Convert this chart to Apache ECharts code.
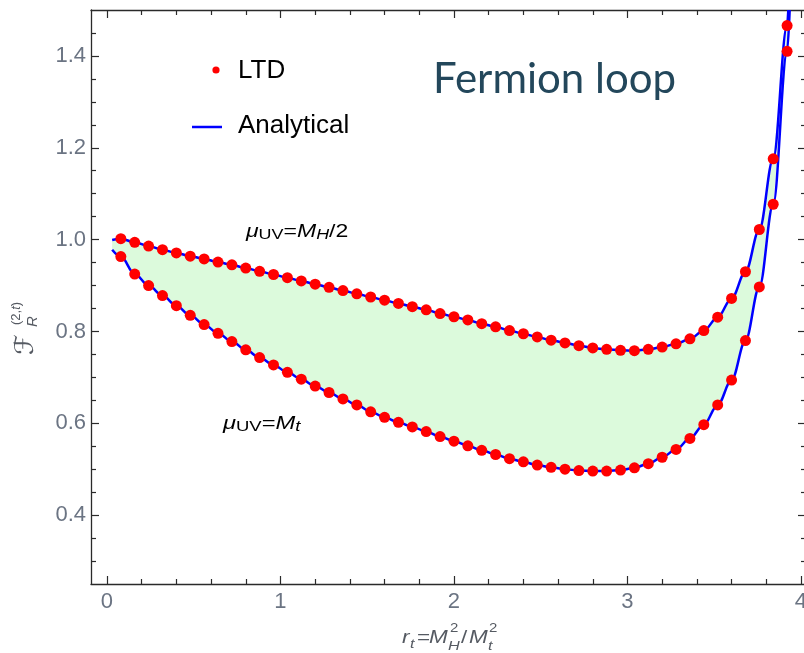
<!DOCTYPE html>
<html>
<head>
<meta charset="utf-8">
<script src="https://cdn.jsdelivr.net/npm/echarts@6/dist/echarts.min.js"></script>
<style>
  html, body { margin: 0; padding: 0; background: #ffffff; }
  #chart { width: 804px; height: 653px; }
</style>
</head>
<body>
<div id="chart"></div>
<script>
// r_t = M_H^2 / M_t^2 sample points
const rt = [0.08, 0.16, 0.24, 0.32, 0.40, 0.48, 0.56, 0.64, 0.72, 0.80,
            0.88, 0.96, 1.04, 1.12, 1.20, 1.28, 1.36, 1.44, 1.52, 1.60,
            1.68, 1.76, 1.84, 1.92, 2.00, 2.08, 2.16, 2.24, 2.32, 2.40,
            2.48, 2.56, 2.64, 2.72, 2.80, 2.88, 2.96, 3.04, 3.12, 3.20,
            3.28, 3.36, 3.44, 3.52, 3.60, 3.68, 3.76, 3.84, 3.92];

// LTD results, mu_UV = M_H/2
const ltdHalf = [1.002, 0.994, 0.986, 0.978, 0.971, 0.964, 0.958, 0.951, 0.945, 0.938,
                 0.931, 0.924, 0.917, 0.910, 0.903, 0.896, 0.889, 0.882, 0.875, 0.868,
                 0.861, 0.854, 0.847, 0.839, 0.832, 0.825, 0.817, 0.810, 0.802, 0.795,
                 0.788, 0.781, 0.775, 0.769, 0.764, 0.761, 0.759, 0.758, 0.761, 0.766,
                 0.773, 0.784, 0.802, 0.831, 0.872, 0.930, 1.022, 1.176, 1.466];

// LTD results, mu_UV = M_t
const ltdTop = [0.963, 0.925, 0.900, 0.878, 0.856, 0.835, 0.815, 0.796, 0.778, 0.760,
                0.743, 0.727, 0.711, 0.696, 0.681, 0.667, 0.653, 0.640, 0.625, 0.613,
                0.602, 0.592, 0.582, 0.571, 0.561, 0.551, 0.541, 0.532, 0.523, 0.516,
                0.509, 0.504, 0.500, 0.497, 0.496, 0.496, 0.498, 0.503, 0.512, 0.526,
                0.543, 0.567, 0.597, 0.640, 0.694, 0.780, 0.897, 1.077, 1.410];

// analytical curves: first and last points beyond the LTD samples
const analyticHalfEnds = [[0.03, 0.999], [3.927, 1.5]];
const analyticTopEnds  = [[0.03, 0.978], [3.935, 1.5]];

// axis ranges and ticks
const X_MIN = -0.092, X_MAX = 4.029;
const Y_MIN = 0.25,   Y_MAX = 1.5;
const xMajor = [0, 1, 2, 3, 4];
const xMinor = [0.2, 0.4, 0.6, 0.8, 1.2, 1.4, 1.6, 1.8, 2.2, 2.4, 2.6, 2.8, 3.2, 3.4, 3.6, 3.8];
const yMajor = [0.4, 0.6, 0.8, 1.0, 1.2, 1.4];
const yMinor = [0.3, 0.35, 0.45, 0.5, 0.55, 0.65, 0.7, 0.75, 0.85, 0.9, 0.95,
                1.05, 1.1, 1.15, 1.25, 1.3, 1.35, 1.45];

const ltdHalfPts = rt.map((x, i) => [x, ltdHalf[i]]);
const ltdTopPts  = rt.map((x, i) => [x, ltdTop[i]]);
const lineHalf = [analyticHalfEnds[0], ...ltdHalfPts, analyticHalfEnds[1]];
const lineTop  = [analyticTopEnds[0],  ...ltdTopPts,  analyticTopEnds[1]];

const FRAME = '#2a2a2a';
const LABEL_COLOR = '#6b7483';
const SANS = '"Liberation Sans", Arial, sans-serif';

function xAxisDef(position, ticks, len, showLine, showLabels) {
  return {
    type: 'value', gridIndex: 0, position, min: X_MIN, max: X_MAX,
    axisLine: { show: showLine, onZero: false, lineStyle: { color: FRAME, width: 1.3 } },
    axisTick: { show: true, inside: true, length: len, customValues: ticks,
                lineStyle: { color: FRAME, width: 1.2 } },
    axisLabel: showLabels
      ? { show: true, customValues: ticks, color: LABEL_COLOR, fontSize: 22,
          fontFamily: SANS, margin: 7, formatter: v => String(v) }
      : { show: false },
    splitLine: { show: false }
  };
}
function yAxisDef(position, ticks, len, showLine, showLabels) {
  return {
    type: 'value', gridIndex: 0, position, min: Y_MIN, max: Y_MAX,
    axisLine: { show: showLine, onZero: false, lineStyle: { color: FRAME, width: 1.3 } },
    axisTick: { show: true, inside: true, length: len, customValues: ticks,
                lineStyle: { color: FRAME, width: 1.2 } },
    axisLabel: showLabels
      ? { show: true, customValues: ticks, color: LABEL_COLOR, fontSize: 22,
          fontFamily: SANS, margin: 5, formatter: v => v.toFixed(1) }
      : { show: false },
    splitLine: { show: false }
  };
}

const chart = echarts.init(document.getElementById('chart'), null, { renderer: 'canvas' });

const mathRich = {
  i:  { fontFamily: SANS, fontSize: 18, fontStyle: 'italic', color: '#111', lineHeight: 20 },
  n:  { fontFamily: SANS, fontSize: 18, color: '#111', lineHeight: 20 },
  s:  { fontFamily: SANS, fontSize: 14, color: '#111', lineHeight: 10, verticalAlign: 'bottom' },
  si: { fontFamily: SANS, fontSize: 14, fontStyle: 'italic', color: '#111', lineHeight: 10, verticalAlign: 'bottom' }
};

// pieces of the horizontal axis title r_t = M_H^2 / M_t^2 (y is the top of the text box)
const XT = '#555a62';
function piece(text, x, y, size, italic) {
  return { type: 'text', x, y, scaleX: 1.25, silent: true,
           style: { text, fontFamily: SANS, fontSize: size, fontStyle: italic ? 'italic' : 'normal',
                    fill: XT, verticalAlign: 'top' } };
}

chart.setOption({
  animation: false,
  backgroundColor: '#ffffff',
  grid: { left: 91, top: 10, width: 715, height: 574, containLabel: false, outerBoundsMode: 'none' },
  xAxis: [
    xAxisDef('bottom', xMajor, 8, true, true),
    xAxisDef('bottom', xMinor, 5, false, false),
    xAxisDef('top', xMajor, 8, true, false),
    xAxisDef('top', xMinor, 5, false, false)
  ],
  yAxis: [
    yAxisDef('left', yMajor, 8, true, true),
    yAxisDef('left', yMinor, 5, false, false),
    yAxisDef('right', yMajor, 8, true, false),
    yAxisDef('right', yMinor, 5, false, false)
  ],
  series: [
    {
      // band between the two scale choices
      type: 'custom', xAxisIndex: 0, yAxisIndex: 0, z: 1, silent: true,
      data: [ltdHalfPts[0]],
      renderItem: (params, api) => {
        const pts = lineHalf.map(p => api.coord(p))
          .concat(lineTop.slice().reverse().map(p => api.coord(p)));
        return { type: 'polygon', shape: { points: pts }, style: { fill: '#dcfadc' } };
      }
    },
    {
      name: 'Analytical', type: 'line', data: lineHalf, z: 2,
      smooth: 0.35, smoothMonotone: 'x', showSymbol: false, clip: true,
      lineStyle: { color: '#0000ff', width: 2.5 }
    },
    {
      name: 'Analytical', type: 'line', data: lineTop, z: 2,
      smooth: 0.35, smoothMonotone: 'x', showSymbol: false, clip: true,
      lineStyle: { color: '#0000ff', width: 2.5 }
    },
    {
      name: 'LTD', type: 'scatter', data: ltdHalfPts, z: 3,
      symbol: 'circle', symbolSize: 11, itemStyle: { color: '#ff0000', opacity: 1 }
    },
    {
      name: 'LTD', type: 'scatter', data: ltdTopPts, z: 3,
      symbol: 'circle', symbolSize: 11, itemStyle: { color: '#ff0000', opacity: 1 }
    }
  ],
  graphic: [
    // legend
    { type: 'circle', shape: { cx: 216, cy: 70, r: 3.6 }, style: { fill: '#ff0000' }, silent: true },
    { type: 'text', x: 238, y: 71, silent: true,
      style: { text: 'LTD', fontFamily: SANS, fontSize: 26, fill: '#000', verticalAlign: 'middle' } },
    { type: 'line', shape: { x1: 192, y1: 127, x2: 222, y2: 127 },
      style: { stroke: '#0000ff', lineWidth: 2.5 }, silent: true },
    { type: 'text', x: 238, y: 126, silent: true,
      style: { text: 'Analytical', fontFamily: SANS, fontSize: 26, fill: '#000', verticalAlign: 'middle' } },
    // title
    { type: 'text', x: 433, y: 79, silent: true,
      style: { text: 'Fermion loop', fontFamily: 'Lato, "Open Sans", sans-serif', fontSize: 42,
               fill: '#23475b', verticalAlign: 'middle' } },
    // curve annotations
    { type: 'text', x: 246, y: 232, scaleX: 1.28, silent: true,
      style: { text: '{i|μ}{s|UV}{n|=}{i|M}{si|H}{n|/2}', rich: mathRich, verticalAlign: 'middle' } },
    { type: 'text', x: 223, y: 424, scaleX: 1.32, silent: true,
      style: { text: '{i|μ}{s|UV}{n|=}{i|M}{si|t}', rich: mathRich, verticalAlign: 'middle' } },
    // horizontal axis title
    {
      type: 'group', silent: true,
      children: [
        piece('r', 402, 628.7, 18, true),
        piece('t', 410, 637.5, 13, true),
        piece('=', 417, 628.7, 18, false),
        piece('M', 429, 628.7, 18, true),
        piece('2', 450, 622.7, 12, false),
        piece('H', 448, 639.5, 13, true),
        piece('/', 461, 628.7, 18, false),
        piece('M', 469, 628.7, 18, true),
        piece('2', 489, 622.7, 12, false),
        piece('t', 488, 639.5, 13, true)
      ]
    },
    // vertical axis title F_R^(2,t), rotated to read upwards
    {
      type: 'group', x: 0, y: 355, rotation: Math.PI / 2, silent: true,
      children: [
        { type: 'text', x: 0, y: 13, style: { text: 'ℱ', fontFamily: '"DejaVu Sans", sans-serif',
          fontSize: 26, fontStyle: 'italic', fill: XT, verticalAlign: 'top' } },
        { type: 'text', x: 30, y: 10, style: { text: '{n|(2,}{i|t}{n|)}', verticalAlign: 'top',
          rich: { n: { fontFamily: SANS, fontSize: 13, fill: XT },
                  i: { fontFamily: SANS, fontSize: 13, fontStyle: 'italic', fill: XT } } } },
        { type: 'text', x: 28, y: 25, style: { text: 'R', fontFamily: SANS,
          fontSize: 15, fontStyle: 'italic', fill: XT, verticalAlign: 'top' } }
      ]
    }
  ]
});
</script>
</body>
</html>
